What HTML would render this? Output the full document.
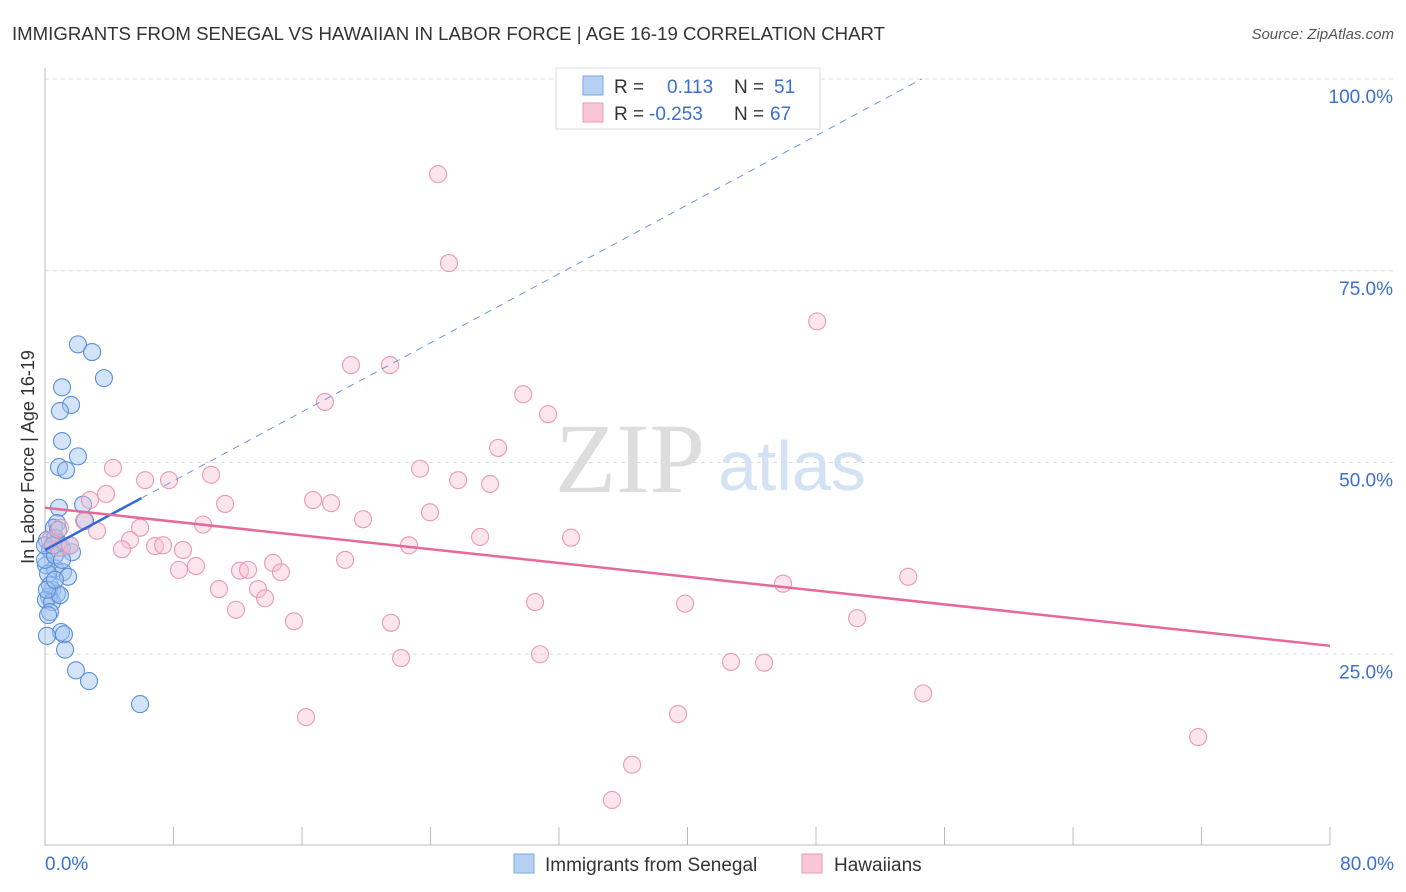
<!DOCTYPE html>
<html><head><meta charset="utf-8"><style>
body{margin:0;background:#fff;font-family:"Liberation Sans",sans-serif;}
svg{display:block}
</style></head><body>
<svg id="c" width="1406" height="892" xmlns="http://www.w3.org/2000/svg">
<text x="12" y="40" font-size="18" fill="#333" textLength="873" lengthAdjust="spacingAndGlyphs">IMMIGRANTS FROM SENEGAL VS HAWAIIAN IN LABOR FORCE | AGE 16-19 CORRELATION CHART</text>
<text x="1394" y="39" font-size="15" fill="#555" text-anchor="end" font-style="italic">Source: ZipAtlas.com</text>
<text x="34" y="457" font-size="18" fill="#333" text-anchor="middle" transform="rotate(-90 34 457)">In Labor Force | Age 16-19</text>
<text x="555" y="492" font-size="100" fill="#ddd" font-family="Liberation Serif,serif">ZIP</text>
<text x="718" y="490" font-size="70" fill="#d3e3f5">atlas</text>
<g id="grid"></g><g id="pts"></g><g id="lines"></g>
<g>
<rect x="556" y="68" width="264" height="61" fill="#fff" stroke="#ddd"/>
<rect x="583" y="76" width="20" height="19" fill="#b7d1f3" stroke="#7aa6e0"/>
<rect x="583" y="103" width="20" height="19" fill="#f8c6d5" stroke="#eb9ab3"/>
<text x="614" y="93" font-size="19" fill="#333">R = <tspan x="667" fill="#3b6fd0">0.113</tspan><tspan x="734" fill="#333">N = </tspan><tspan x="774" fill="#3b6fd0">51</tspan></text>
<text x="614" y="120" font-size="19" fill="#333">R = <tspan x="649" fill="#3b6fd0">-0.253</tspan><tspan x="734" fill="#333">N = </tspan><tspan x="770" fill="#3b6fd0">67</tspan></text>
</g>
<g>
<rect x="514" y="854" width="20" height="19" fill="#b7d1f3" stroke="#7aa6e0"/>
<text x="545" y="871" font-size="19" fill="#333">Immigrants from Senegal</text>
<rect x="802" y="854" width="20" height="19" fill="#f8c6d5" stroke="#eb9ab3"/>
<text x="834" y="871" font-size="19" fill="#333">Hawaiians</text>
</g>
</svg>
<script>
const xTicks=[0,8,16,24,32,40,48,56,64,72,80];
const yTicks=[25,50,75,100];
const blueX=[2.05,2.93,3.67,1.06,1.62,0.93,1.06,2.05,0.87,1.31,2.37,0.87,2.49,0.75,0.56,0.12,0.62,0.81,1.06,0.31,1.68,0.06,0.62,1.12,1.43,0.19,0.44,0.75,0.25,0.06,0.44,0.31,0.19,1.0,1.18,0.12,1.25,1.93,2.74,5.92,0,0.31,0.62,0.93,0,0.5,0.81,1.56,0.12,0.62,1.06];
const blueY=[65.4,64.4,61.0,59.8,57.5,56.7,52.8,50.8,49.4,49.0,44.5,44.1,42.4,42.1,41.5,39.9,40.2,39.6,38.9,38.6,38.3,36.6,36.2,35.7,35.1,35.5,33.4,32.9,32.5,32.1,31.8,30.5,30.1,27.9,27.6,27.4,25.6,22.9,21.5,18.5,37.3,34.0,37.9,32.7,39.2,39.2,41.2,39.2,33.4,34.7,37.3];
const pinkX=[24.47,25.15,48.07,19.05,21.48,29.77,31.32,17.43,28.21,23.35,4.23,10.34,6.23,7.72,25.72,27.71,3.80,2.80,16.69,17.81,11.21,23.97,19.80,2.43,5.92,9.84,3.24,27.09,32.75,5.29,22.66,6.85,7.35,4.79,8.59,0.87,18.68,14.20,9.40,8.34,12.14,12.64,14.69,53.74,45.95,10.83,13.26,13.70,30.51,39.85,11.89,50.56,15.50,21.54,22.17,30.82,42.71,44.77,54.67,16.25,39.41,71.79,36.55,35.30,0.31,1.56,0.93];
const pinkY=[87.6,76.0,68.4,62.7,62.7,58.9,56.3,57.9,51.9,49.2,49.3,48.4,47.7,47.7,47.7,47.2,45.9,45.1,45.1,44.7,44.6,43.5,42.6,42.4,41.5,41.9,41.1,40.3,40.2,39.9,39.2,39.1,39.2,38.7,38.6,38.9,37.3,36.9,36.5,36.0,35.9,36.0,35.7,35.1,34.2,33.5,33.5,32.3,31.8,31.6,30.8,29.7,29.3,29.1,24.5,25.0,24.0,23.9,19.9,16.8,17.2,14.2,10.6,6.0,39.9,39.2,41.5];
const blueTrend=[38.6,1.125];const pinkTrend=[44.1,-0.225];
const NS="http://www.w3.org/2000/svg";
const sx=v=>45+v/80*1285, sy=v=>846-v/100*767;
function mk(t,a,p){const e=document.createElementNS(NS,t);for(const k in a)e.setAttribute(k,a[k]);p.appendChild(e);return e;}
const g=document.getElementById('grid');
yTicks.forEach(v=>{const l=mk('line',{x1:45,x2:1394,y1:sy(v),y2:sy(v),stroke:'#ddd','stroke-dasharray':'4,4'},g);


const t=mk('text',{x:1393,y:sy(v)+24,'font-size':19,fill:'#3b6fd0','text-anchor':'end'},g);t.textContent=v.toFixed(1)+'%';

});
mk('line',{x1:45,x2:45,y1:68,y2:846,stroke:'#bbb'},g);
mk('line',{x1:45,x2:1330,y1:845,y2:845,stroke:'#bbb'},g);
xTicks.forEach(v=>{const l=mk('line',{x1:sx(v),x2:sx(v),y1:827,y2:845,stroke:'#bbb'},g);

});
[[0,'start'],[80,'end']].forEach(([v,a])=>{const t=mk('text',{x:v==0?45:1394,y:870,'font-size':19,fill:'#3b6fd0','text-anchor':a},g);t.textContent=v.toFixed(1)+'%';

});
const p=document.getElementById('pts');
blueX.forEach((x,i)=>{const c=mk('circle',{cx:sx(x),cy:sy(blueY[i]),r:8.5,fill:'rgba(160,196,240,0.45)',stroke:'#5b8fd8','stroke-width':1.1},p);

});
pinkX.forEach((x,i)=>{const c=mk('circle',{cx:sx(x),cy:sy(pinkY[i]),r:8.5,fill:'rgba(248,190,208,0.4)',stroke:'#e99ab3','stroke-width':1.1},p);

});
const L=document.getElementById('lines');
const bf=x=>blueTrend[0]+blueTrend[1]*x, pf=x=>pinkTrend[0]+pinkTrend[1]*x;
const bxEnd=(100-blueTrend[0])/blueTrend[1];
let e=mk('line',{x1:sx(6),y1:sy(bf(6)),x2:sx(bxEnd),y2:sy(100),stroke:'#6d96d8','stroke-width':1,'stroke-dasharray':'7,6'},L);


e=mk('line',{x1:sx(0),y1:sy(bf(0)),x2:sx(6),y2:sy(bf(6)),stroke:'#2f6ad6','stroke-width':2.5},L);


e=mk('line',{x1:sx(0),y1:sy(pf(0)),x2:sx(80),y2:sy(pf(80)),stroke:'#e6699a','stroke-width':2.5},L);


</script>
</body></html>
